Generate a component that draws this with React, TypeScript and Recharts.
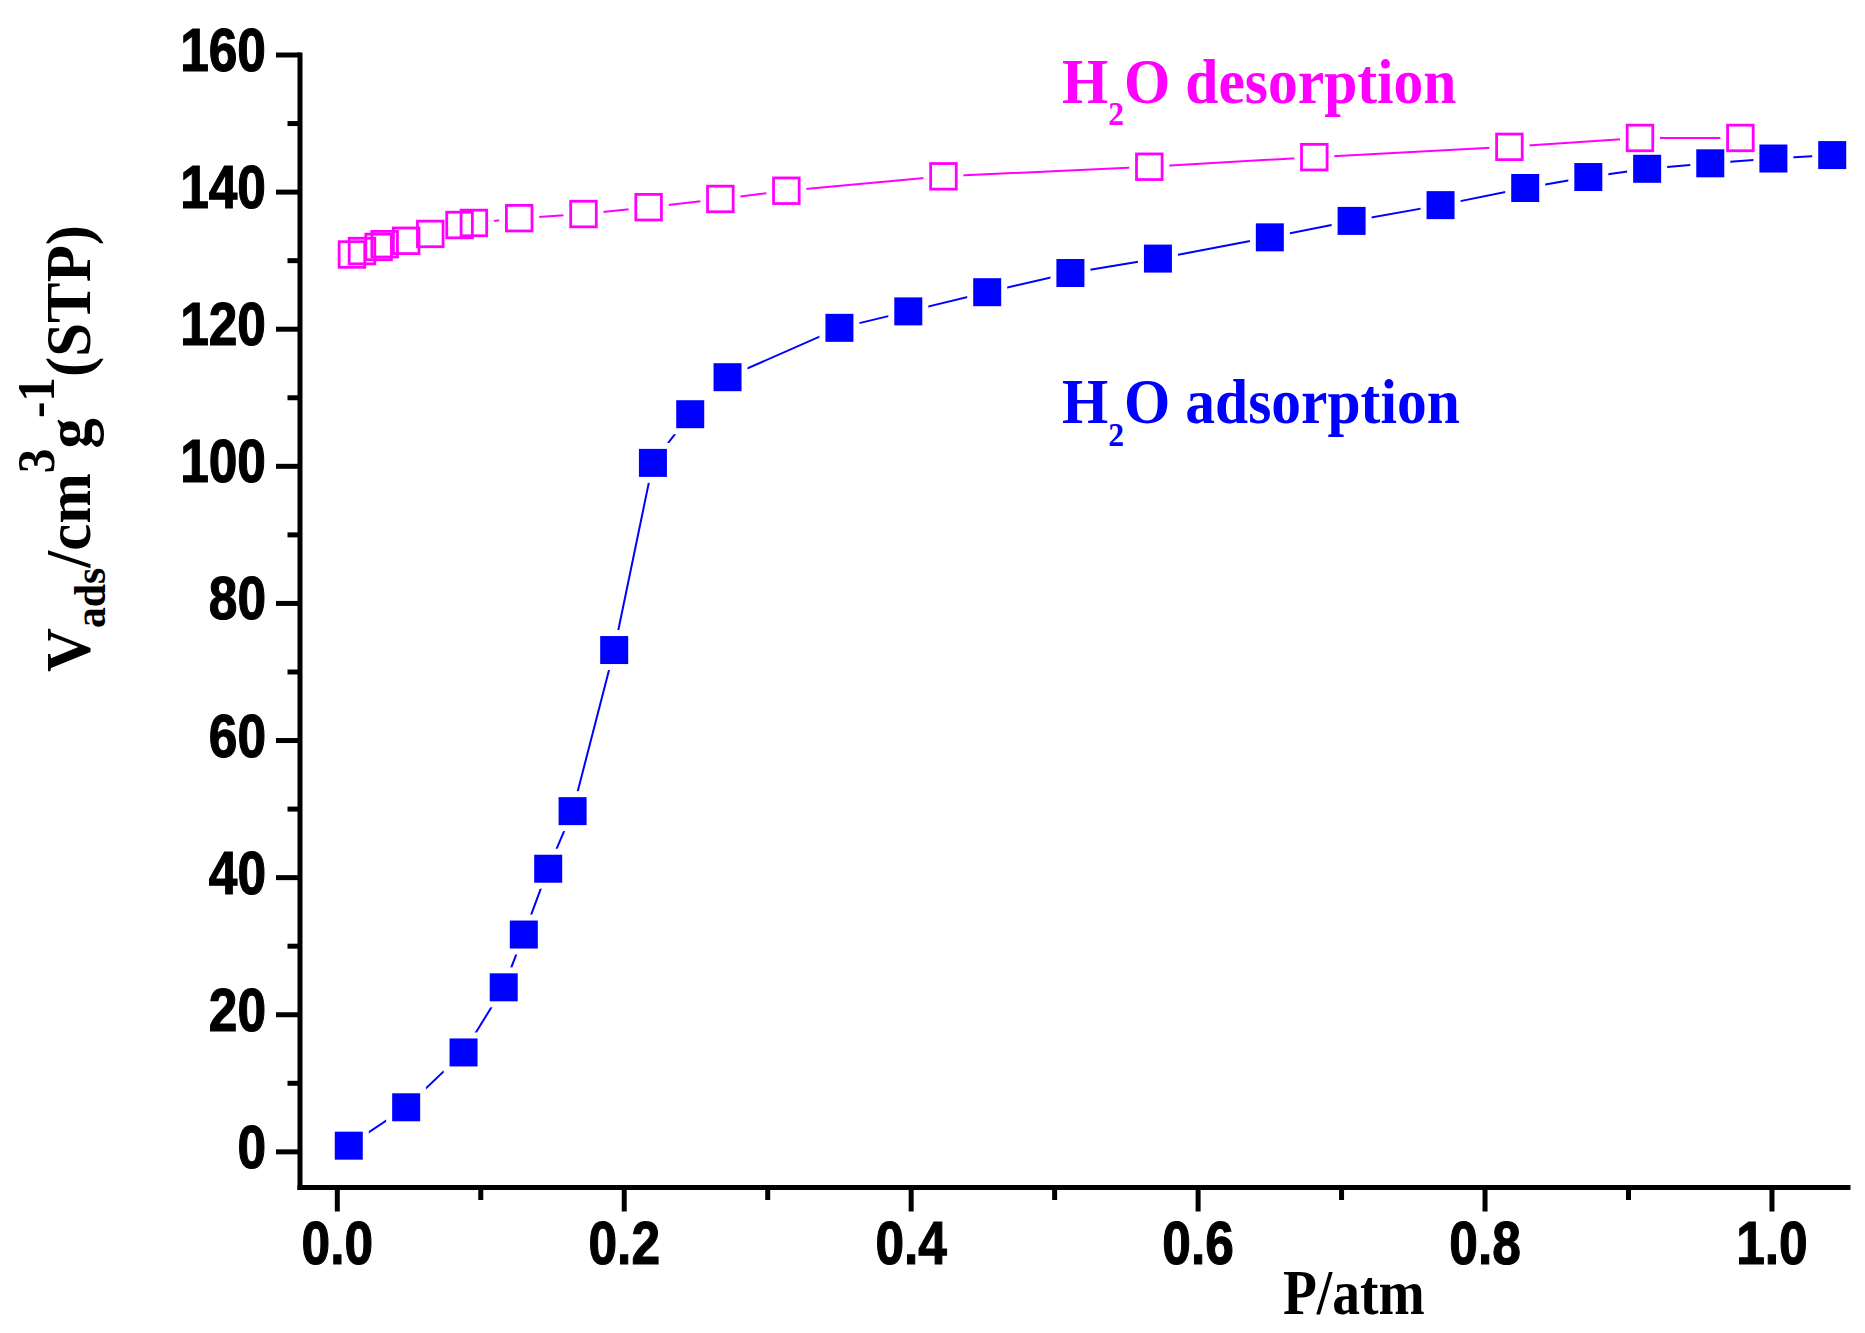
import React from 'react';
import { ScatterChart, Scatter, XAxis, YAxis } from 'recharts';

// Adsorption branch (filled blue squares)
const adsP = [0.008, 0.048, 0.088, 0.116, 0.130, 0.147, 0.164, 0.193, 0.220, 0.246, 0.272, 0.350, 0.398, 0.453, 0.511, 0.572, 0.650, 0.707, 0.769, 0.828, 0.872, 0.913, 0.957, 1.001, 1.042];
const adsV = [0.9, 6.5, 14.5, 24.0, 31.7, 41.3, 49.7, 73.2, 100.5, 107.6, 113.0, 120.2, 122.6, 125.4, 128.2, 130.3, 133.4, 135.8, 138.1, 140.6, 142.2, 143.4, 144.2, 144.9, 145.4];

// Desorption branch (open magenta squares), in measurement order
const desP = [0.978, 0.908, 0.817, 0.681, 0.566, 0.4225, 0.313, 0.267, 0.217, 0.1716, 0.1268, 0.0952, 0.0852, 0.0648, 0.048, 0.033, 0.0288, 0.0172, 0.0102];
const desV = [147.9, 147.9, 146.6, 145.1, 143.7, 142.3, 140.2, 139.0, 137.8, 136.8, 136.2, 135.5, 135.2, 133.9, 132.9, 132.4, 132.0, 131.4, 130.9];

const xMajor = [0, 0.2, 0.4, 0.6, 0.8, 1.0];
const xMinor = [0.1, 0.3, 0.5, 0.7, 0.9];
const xLabels = ['0.0', '0.2', '0.4', '0.6', '0.8', '1.0'];
const yMajor = [0, 20, 40, 60, 80, 100, 120, 140, 160];
const yMinor = [10, 30, 50, 70, 90, 110, 130, 150];
const yLabels = ['0', '20', '40', '60', '80', '100', '120', '140', '160'];

const adsData = adsP.map((p, i) => ({ x: p, y: adsV[i] }));
const desData = desP.map((p, i) => ({ x: p, y: desV[i] }));
const xTicks = [...xMajor, ...xMinor].sort((a, b) => a - b);
const yTicks = [...yMajor, ...yMinor].sort((a, b) => a - b);

const BLUE = '#0000FF';
const MAGENTA = '#FF00FF';
const SANS = '"Liberation Sans", Arial, sans-serif';
const SERIF = '"Liberation Serif", "Times New Roman", serif';

const labelStyle = {
  fontFamily: SANS,
  fontWeight: 'bold' as const,
  fontSize: 62,
  fill: '#000',
  stroke: '#000',
  strokeWidth: 1.2,
};

const XTick = (props: any) => {
  const { x, y, payload } = props;
  const v = payload.value;
  const idx = xMajor.findIndex((m) => Math.abs(m - v) < 1e-6);
  const major = idx >= 0;
  return (
    <g>
      <line x1={x} x2={x} y1={y} y2={y + (major ? 24 : 12.5)} stroke="#000" strokeWidth={5} />
      {major && (
        <g transform={`translate(${x},${y + 76}) scale(0.83,1)`}>
          <text x={0} y={0} textAnchor="middle" {...labelStyle}>
            {xLabels[idx]}
          </text>
        </g>
      )}
    </g>
  );
};

const YTick = (props: any) => {
  const { x, y, payload } = props;
  const v = payload.value;
  const idx = yMajor.findIndex((m) => Math.abs(m - v) < 1e-6);
  const major = idx >= 0;
  return (
    <g>
      <line x1={x - (major ? 24 : 12.5)} x2={x} y1={y} y2={y} stroke="#000" strokeWidth={5} />
      {major && (
        <g transform={`translate(${x - 34},${y + 16}) scale(0.83,1)`}>
          <text x={0} y={0} textAnchor="end" {...labelStyle}>
            {yLabels[idx]}
          </text>
        </g>
      )}
    </g>
  );
};

const Halo = (p: any) => <rect x={p.cx - 20} y={p.cy - 20} width={40} height={40} fill="#fff" />;
const FilledSquare = (p: any) => <rect x={p.cx - 14} y={p.cy - 14} width={28} height={28} fill={BLUE} />;
const OpenSquare = (p: any) => (
  <rect x={p.cx - 12.8} y={p.cy - 12.8} width={25.6} height={25.6} fill="none" stroke={MAGENTA} strokeWidth={2.8} />
);

export default function App() {
  return (
    <div style={{ position: 'absolute', left: 0, top: 0, width: 1865, height: 1333, background: '#fff' }}>
      <ScatterChart width={1865} height={1333} margin={{ top: 55, right: 17, bottom: 0, left: 0 }}>
        <XAxis
          type="number"
          dataKey="x"
          domain={[-0.026, 1.053]}
          allowDataOverflow
          ticks={xTicks}
          interval={0}
          height={145.5}
          tickSize={0}
          tickMargin={0}
          tickLine={false}
          tick={<XTick />}
          axisLine={{ stroke: '#000', strokeWidth: 5, strokeLinecap: 'square' }}
        />
        <YAxis
          type="number"
          dataKey="y"
          domain={[-5.2, 160]}
          allowDataOverflow
          ticks={yTicks}
          interval={0}
          width={300}
          tickSize={0}
          tickMargin={0}
          tickLine={false}
          tick={<YTick />}
          axisLine={{ stroke: '#000', strokeWidth: 5, strokeLinecap: 'square' }}
        />
        <Scatter data={adsData} line={{ stroke: BLUE, strokeWidth: 2 }} lineType="joint" shape={Halo} isAnimationActive={false} />
        <Scatter data={desData} line={{ stroke: MAGENTA, strokeWidth: 2 }} lineType="joint" shape={Halo} isAnimationActive={false} />
        <Scatter data={desData} shape={OpenSquare} isAnimationActive={false} />
        <Scatter data={adsData} shape={FilledSquare} isAnimationActive={false} />
      </ScatterChart>
      <svg width={1865} height={1333} style={{ position: 'absolute', left: 0, top: 0, pointerEvents: 'none' }}>
        <g transform="translate(1062,102.7) scale(0.93,1)">
          <text x={0} y={0} fontFamily={SERIF} fontWeight="bold" fontSize={64} fill={MAGENTA}>
            H<tspan fontSize={34} dy={22}>2</tspan><tspan dy={-22}>O desorption</tspan>
          </text>
        </g>
        <g transform="translate(1062,423.3) scale(0.93,1)">
          <text x={0} y={0} fontFamily={SERIF} fontWeight="bold" fontSize={64} fill={BLUE}>
            H<tspan fontSize={34} dy={22.7}>2</tspan><tspan dy={-22.7}>O adsorption</tspan>
          </text>
        </g>
        <g transform="translate(1283,1314) scale(0.88,1)">
          <text x={0} y={0} fontFamily={SERIF} fontWeight="bold" fontSize={63} fill="#000">P/atm</text>
        </g>
        <g transform="translate(90,672) rotate(-90) scale(0.95,1)">
          <text x={0} y={0} fontFamily={SERIF} fontWeight="bold" fontSize={64} fill="#000">
            V<tspan fontSize={44} dy={15}>ads</tspan>
            <tspan dy={-15}>/cm</tspan>
            <tspan fontSize={52} dy={-36}>3</tspan>
            <tspan dy={36}>g</tspan>
            <tspan fontSize={52} dy={-36}>-1</tspan>
            <tspan dy={36}>(STP)</tspan>
          </text>
        </g>
      </svg>
    </div>
  );
}
